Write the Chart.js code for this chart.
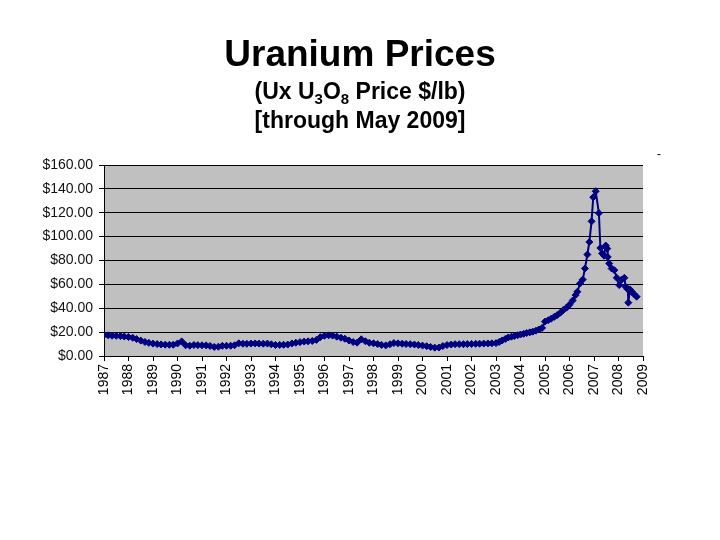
<!DOCTYPE html>
<html>
<head>
<meta charset="utf-8">
<script src="https://cdn.jsdelivr.net/npm/chart.js@4/dist/chart.umd.min.js"></script>
<style>
  html, body { margin: 0; padding: 0; background: #ffffff; }
  #wrap { width: 720px; height: 540px; }
</style>
</head>
<body>
<div id="wrap"><canvas id="c" width="720" height="540"></canvas></div>
<script>
// ---- Chart text ----
const titleText = "Uranium Prices";
const subtitleParts = [["(Ux U", false], ["3", true], ["O", false], ["8", true], [" Price $/lb)", false]];
const subtitleLine2 = "[through May 2009]";

// ---- Axis ranges / ticks ----
const firstYear = 1987;
const lastYear = 2009;
const priceMin = 0;
const priceMax = 160;
const priceStep = 20;

// ---- Series (x = position on the year axis, y = $/lb) ----
const dates1987to2003 = [
  1987.00, 1987.17, 1987.33, 1987.50, 1987.67, 1987.83,
  1988.00, 1988.17, 1988.33, 1988.50, 1988.67, 1988.83,
  1989.00, 1989.17, 1989.33, 1989.50, 1989.67, 1989.83,
  1990.00, 1990.17, 1990.33, 1990.50, 1990.67, 1990.83,
  1991.00, 1991.17, 1991.33, 1991.50, 1991.67, 1991.83,
  1992.00, 1992.17, 1992.33, 1992.50, 1992.67, 1992.83,
  1993.00, 1993.17, 1993.33, 1993.50, 1993.67, 1993.83,
  1994.00, 1994.17, 1994.33, 1994.50, 1994.67, 1994.83,
  1995.00, 1995.17, 1995.33, 1995.50, 1995.67, 1995.83,
  1996.00, 1996.17, 1996.33, 1996.50, 1996.67, 1996.83,
  1997.00, 1997.17, 1997.33, 1997.50, 1997.67, 1997.83,
  1998.00, 1998.17, 1998.33, 1998.50, 1998.67, 1998.83,
  1999.00, 1999.17, 1999.33, 1999.50, 1999.67, 1999.83,
  2000.00, 2000.17, 2000.33, 2000.50, 2000.67, 2000.83,
  2001.00, 2001.17, 2001.33, 2001.50, 2001.67, 2001.83,
  2002.00, 2002.17, 2002.33, 2002.50, 2002.67, 2002.83,
  2003.00
];
const prices1987to2003 = [
  17.5, 17.3, 17.0, 16.9, 16.7, 16.3,
  15.9, 15.3, 14.2, 12.9, 11.8, 11.0,
  10.4, 10.0, 9.7, 9.5, 9.4, 9.5,
  10.5, 12.2, 9.0, 8.6, 9.2, 9.1,
  9.0, 8.9, 8.4, 7.6, 7.8, 8.5,
  8.6, 8.6, 9.0, 10.6, 10.3, 10.2,
  10.4, 10.5, 10.4, 10.3, 10.4, 9.8,
  9.2, 9.3, 9.4, 9.6, 10.5, 11.1,
  11.6, 12.1, 12.3, 12.6, 13.5, 15.8,
  17.0, 17.3, 17.1, 16.2, 15.3, 14.5,
  13.0, 11.7, 11.2, 14.0, 12.3, 11.1,
  10.6, 10.0, 9.3, 8.9, 9.8, 10.8,
  10.6, 10.3, 10.1, 9.9, 9.6, 9.2,
  8.7, 8.2, 7.6, 7.0, 7.1, 8.3,
  9.2, 9.6, 9.9, 9.9, 9.9, 10.0,
  10.1, 10.2, 10.3, 10.4, 10.5, 10.6,
  10.8
];
const dates2003to2006 = [
  2003.13, 2003.25, 2003.38, 2003.50, 2003.63, 2003.75, 2003.88,
  2004.00, 2004.13, 2004.25, 2004.38, 2004.50, 2004.63, 2004.75, 2004.88,
  2005.00, 2005.13, 2005.25, 2005.38, 2005.50, 2005.63, 2005.75, 2005.88,
  2006.00, 2006.13, 2006.25
];
const prices2003to2006 = [
  11.8, 13.0, 14.3, 15.5, 16.2, 16.8, 17.4,
  18.0, 18.6, 19.2, 19.8, 20.4, 21.2, 22.2, 23.5,
  28.8, 30.0, 31.2, 32.8, 34.3, 36.3, 38.6, 40.5,
  43.0, 46.5, 51.0
];
const dates2006to2009 = [
  2006.32, 2006.43, 2006.54, 2006.63, 2006.73, 2006.81, 2006.90, 2006.97,
  2007.07, 2007.20, 2007.26, 2007.33, 2007.41, 2007.48, 2007.54, 2007.56,
  2007.62, 2007.72, 2007.83, 2007.93, 2008.03, 2008.13, 2008.24, 2008.29,
  2008.38, 2008.40, 2008.47, 2008.54, 2008.63, 2008.74
];
const prices2006to2009 = [
  53.8, 60.8, 64.0, 73.3, 85.0, 95.5, 112.8, 133.0,
  138.0, 119.7, 90.5, 86.0, 84.0, 92.5, 90.0, 83.0,
  77.5, 73.3, 71.9, 65.5, 59.4, 64.0, 65.5, 58.0,
  55.8, 44.7, 55.8, 53.8, 51.9, 49.7
];

const allDates = dates1987to2003.concat(dates2003to2006, dates2006to2009);
const allPrices = prices1987to2003.concat(prices2003to2006, prices2006to2009);
const points = allDates.map((d, i) => ({ x: d, y: allPrices[i] }));

const FONT = "'Liberation Sans', Arial, Helvetica, sans-serif";

const backdropPlugin = {
  id: 'backdrop',
  beforeDraw(chart) {
    const { ctx, chartArea: a } = chart;
    ctx.save();
    ctx.fillStyle = '#ffffff';
    ctx.fillRect(0, 0, chart.width, chart.height);
    ctx.fillStyle = '#c0c0c0';
    ctx.fillRect(a.left, a.top, a.right - a.left, a.bottom - a.top);
    ctx.restore();
  }
};

const titlePlugin = {
  id: 'titles',
  afterDraw(chart) {
    const ctx = chart.ctx;
    const cx = 360;
    ctx.save();
    ctx.fillStyle = '#000000';
    ctx.textBaseline = 'alphabetic';
    ctx.font = "bold 37px " + FONT;
    ctx.textAlign = 'center';
    ctx.fillText(titleText, cx, 66);
    const big = "bold 23px " + FONT;
    const small = "bold 15px " + FONT;
    ctx.textAlign = 'left';
    let total = 0;
    subtitleParts.forEach(([t, sub]) => { ctx.font = sub ? small : big; total += ctx.measureText(t).width; });
    let x = cx - total / 2;
    subtitleParts.forEach(([t, sub]) => {
      ctx.font = sub ? small : big;
      ctx.fillText(t, x, sub ? 104 : 99);
      x += ctx.measureText(t).width;
    });
    ctx.font = big;
    ctx.textAlign = 'center';
    ctx.fillText(subtitleLine2, cx, 128);
    ctx.font = "12px " + FONT;
    ctx.fillText('-', 659, 158);
    ctx.restore();
  }
};

new Chart(document.getElementById('c'), {
  type: 'line',
  data: {
    datasets: [{
      data: points,
      borderColor: '#000080',
      backgroundColor: '#000080',
      borderWidth: 2,
      pointStyle: 'rectRot',
      pointRadius: 3.5,
      pointBorderWidth: 1,
      pointBorderColor: '#000080',
      pointBackgroundColor: '#000080',
      tension: 0,
      fill: false
    }]
  },
  options: {
    responsive: false,
    animation: false,
    devicePixelRatio: 1,
    layout: { padding: { top: 165, right: 77, bottom: 0, left: 0 } },
    plugins: {
      legend: { display: false },
      tooltip: { enabled: false },
      title: { display: false }
    },
    scales: {
      x: {
        type: 'linear',
        min: firstYear,
        max: lastYear,
        afterFit: s => { s.height = 184; },
        ticks: {
          stepSize: 1,
          autoSkip: false,
          minRotation: 90,
          maxRotation: 90,
          padding: 3,
          color: '#000000',
          font: { family: FONT, size: 14 },
          callback: v => String(v)
        },
        grid: { drawOnChartArea: false, drawTicks: true, tickLength: 5, color: '#000000' },
        border: { display: true, color: '#000000', width: 1 }
      },
      y: {
        min: priceMin,
        max: priceMax,
        afterFit: s => { s.width = 104; },
        ticks: {
          stepSize: priceStep,
          padding: 6,
          color: '#111111',
          font: { family: FONT, size: 14 },
          callback: v => '$' + Number(v).toFixed(2)
        },
        grid: { color: '#000000', lineWidth: 1, tickLength: 5, drawTicks: true },
        border: { display: true, color: '#000000', width: 1 }
      }
    }
  },
  plugins: [backdropPlugin, titlePlugin]
});
</script>
</body>
</html>
